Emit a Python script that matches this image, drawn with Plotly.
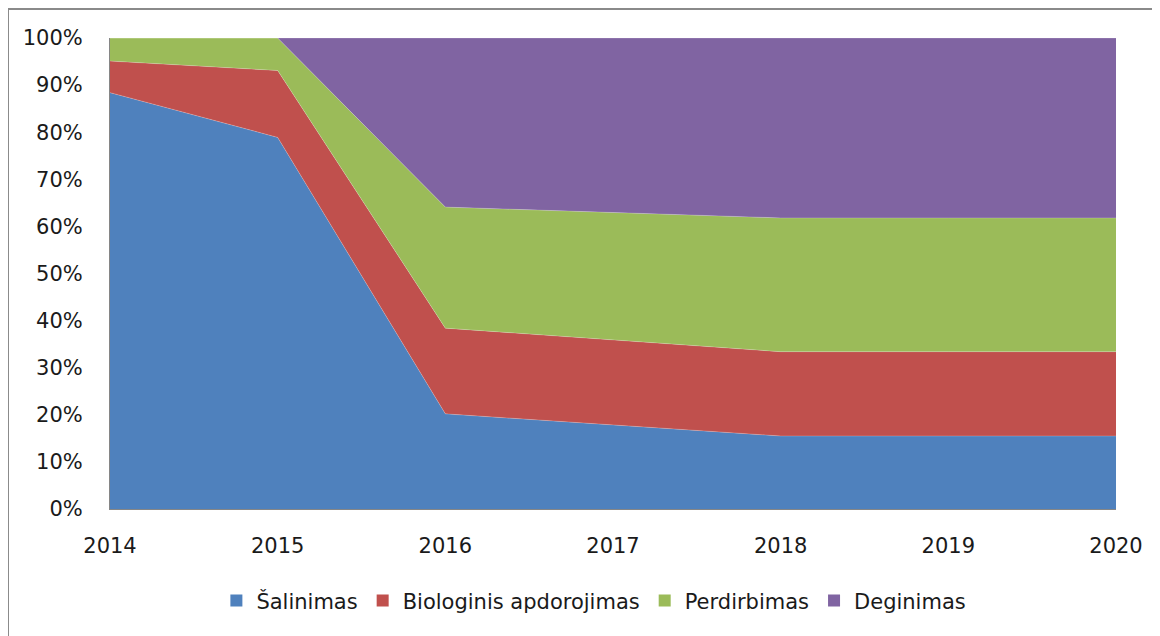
import plotly.graph_objects as go

years = [2014, 2015, 2016, 2017, 2018, 2019, 2020]
series_names = ["Šalinimas", "Biologinis apdorojimas", "Perdirbimas", "Deginimas"]
salinimas = [88.4, 78.9, 20.2, 17.9, 15.5, 15.5, 15.5]
biologinis = [6.7, 14.2, 18.2, 18.0, 17.9, 17.9, 17.9]
perdirbimas = [4.9, 6.9, 25.7, 27.0, 28.4, 28.4, 28.4]
deginimas = [0.0, 0.0, 35.9, 37.1, 38.2, 38.2, 38.2]
colors = ["#4F81BD", "#C0504D", "#9BBB59", "#8064A2"]
y_ticks = list(range(0, 101, 10))
y_tick_labels = [f"{v}%" for v in y_ticks]

fig = go.Figure()
for name, vals, col in zip(series_names, [salinimas, biologinis, perdirbimas, deginimas], colors):
    fig.add_trace(go.Scatter(
        x=years, y=vals, name=name, mode="lines", stackgroup="one",
        groupnorm="percent", showlegend=False,
        line=dict(width=0.6, color="rgba(255,255,255,0.35)"), fillcolor=col,
    ))
# legend entries with square swatches
for name, col in zip(series_names, colors):
    fig.add_trace(go.Scatter(
        x=[None], y=[None], name=name, mode="markers",
        marker=dict(symbol="square", size=12, color=col), showlegend=True,
    ))

font = dict(family="DejaVu Sans, Liberation Sans, sans-serif", size=21, color="#1a1a1a")
fig.update_layout(
    width=1160, height=636,
    margin=dict(l=102, r=52, t=30, b=135),
    paper_bgcolor="white", plot_bgcolor="white",
    font=font,
    showlegend=True,
    legend=dict(orientation="h", x=0.481, xanchor="center", y=-0.195, yanchor="middle",
                font=font, itemwidth=30, traceorder="normal"),
    xaxis=dict(range=[2014, 2020], tickmode="array", tickvals=years,
               ticktext=[str(y) for y in years], showgrid=False, zeroline=False,
               showline=True, linecolor="#868686", linewidth=1,
               ticks="", ticklabelstandoff=18),
    yaxis=dict(range=[0, 100], tickmode="array", tickvals=y_ticks, ticktext=y_tick_labels,
               showgrid=False, zeroline=False, showline=True, linecolor="#868686",
               linewidth=1, ticks="", ticklabelstandoff=22),
    shapes=[
        dict(type="line", xref="paper", yref="paper", x0=-0.1014, x1=1.1, y0=1.0616, y1=1.0616,
             line=dict(color="#8a8a8a", width=2)),
        dict(type="line", xref="paper", yref="paper", x0=-0.1014, x1=-0.1014, y0=1.0616, y1=-0.3,
             line=dict(color="#8a8a8a", width=2)),
    ],
)
fig.write_html("out.html")
